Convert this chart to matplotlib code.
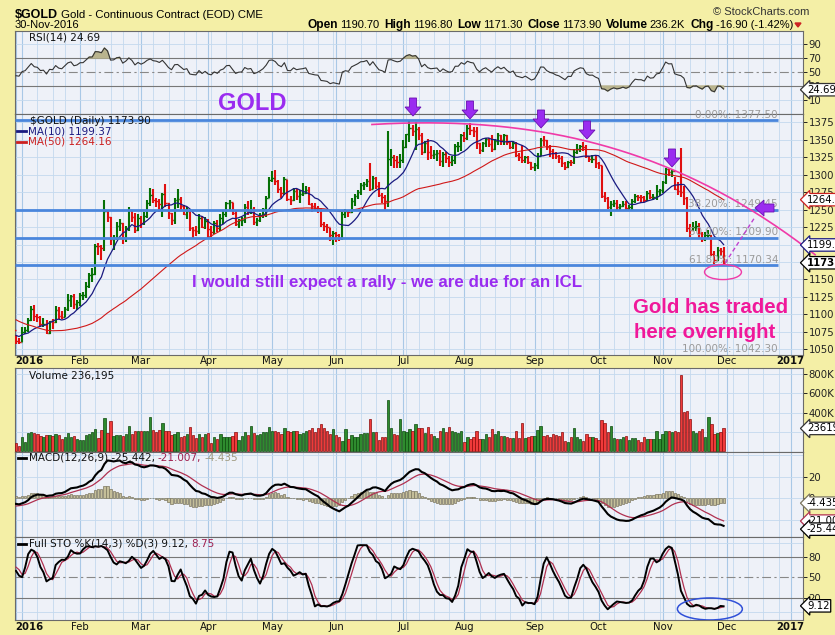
import numpy as np
import pandas as pd
import matplotlib
matplotlib.use("Agg")
import matplotlib.pyplot as plt
from matplotlib.patches import Ellipse, Polygon
from matplotlib.lines import Line2D

W, H = 835, 635

# warm-up history 19-Oct-2015 .. 29-Dec-2015, only used to seed the indicators
warm_close = [1172.4, 1176.6, 1166.2, 1166.6, 1163.0, 1162.8, 1166.0, 1176.1, 1146.3, 1142.4,
              1134.6, 1114.0, 1104.8, 1104.0, 1088.1, 1090.5, 1088.0, 1085.4, 1084.6, 1081.1,
              1084.1, 1069.5, 1068.1, 1077.8, 1076.4, 1069.3, 1073.2, 1071.1, 1056.5, 1064.2,
              1068.8, 1053.3, 1061.8, 1084.1, 1075.0, 1075.8, 1076.2, 1071.4, 1075.6, 1062.2,
              1062.1, 1076.0, 1049.6, 1065.3, 1080.6, 1075.1, 1069.6, 1075.8, 1068.3, 1077.6]
warm_high = [1178, 1181, 1177, 1172, 1170, 1168, 1170, 1180, 1159, 1151,
             1143, 1137, 1118, 1110, 1108, 1095, 1094, 1092, 1089, 1089,
             1090, 1085, 1077, 1081, 1082, 1078, 1078, 1077, 1074, 1066,
             1072, 1070, 1065, 1087, 1085, 1079, 1083, 1080, 1078, 1077,
             1066, 1079, 1073, 1068, 1085, 1081, 1077, 1078, 1077, 1080]
warm_low = [1166, 1168, 1162, 1160, 1159, 1158, 1160, 1156, 1142, 1139,
            1131, 1110, 1103, 1101, 1084, 1083, 1085, 1082, 1080, 1077,
            1075, 1067, 1063, 1067, 1072, 1063, 1068, 1068, 1052, 1053,
            1058, 1050, 1046, 1055, 1071, 1070, 1072, 1068, 1067, 1060,
            1058, 1061, 1046, 1048, 1064, 1072, 1066, 1068, 1067, 1066]

# shown bars 30-Dec-2015 .. 30-Nov-2016
close = [
    1061.8, 1060.2,
    1075.1, 1078.4, 1091.9, 1107.7, 1097.8, 1096.0, 1085.6, 1086.9, 1073.9, 1090.6,
    1089.4, 1106.1, 1098.1, 1096.1, 1107.6, 1121.0, 1125.9, 1114.9, 1118.2,
    1128.0, 1128.5, 1141.1, 1156.8, 1157.3, 1198.0, 1197.3, 1195.2, 1247.8, 1239.4,
    1208.2, 1210.0, 1226.7, 1230.8, 1209.3, 1223.5, 1249.6, 1240.0, 1220.7, 1238.4,
    1231.0, 1241.3, 1259.8, 1270.9, 1264.0, 1262.4, 1257.6, 1272.0, 1259.6, 1244.4,
    1235.0, 1263.2, 1265.0, 1254.7, 1244.0, 1248.2, 1223.7, 1220.8, 1219.6, 1238.3,
    1224.8, 1234.2,
    1222.2, 1218.4, 1230.6, 1224.3, 1237.9, 1243.1, 1258.8, 1260.3, 1245.8, 1229.7,
    1234.6, 1235.5, 1254.2, 1248.6, 1250.9, 1231.8, 1235.7, 1242.3, 1250.6, 1266.0,
    1293.0,
    1295.2, 1290.5, 1279.3, 1274.1, 1294.0, 1265.0, 1263.7, 1277.2, 1269.9, 1272.8,
    1274.4, 1277.9, 1257.6, 1254.8, 1252.0, 1251.0, 1228.8, 1227.0, 1224.5, 1213.8,
    1216.2,
    1213.0, 1210.0, 1243.6, 1248.2, 1246.2, 1262.8, 1269.3, 1275.7, 1285.0, 1286.1,
    1291.1, 1279.1, 1294.8, 1283.0, 1270.8, 1267.8, 1262.3, 1322.4, 1324.7, 1320.6,
    1317.6, 1321.4,
    1339.8, 1357.7, 1366.0, 1362.0, 1365.9, 1356.9, 1332.0, 1345.0, 1332.7, 1328.5,
    1329.9, 1331.6, 1318.8, 1330.0, 1323.4, 1318.3, 1320.3, 1341.0, 1341.3, 1357.2,
    1352.8, 1367.3, 1364.0, 1362.4, 1344.9, 1335.5, 1345.5, 1351.0, 1343.2, 1337.1,
    1348.3, 1356.6, 1350.1, 1356.2, 1346.6, 1340.0, 1345.0, 1328.0, 1324.7, 1321.3,
    1325.5, 1318.6, 1311.4,
    1314.1, 1327.0, 1350.1, 1349.8, 1339.6, 1334.2, 1331.4, 1326.0, 1323.2, 1317.0,
    1310.4, 1318.2, 1318.0, 1332.2, 1337.2, 1341.3, 1340.0, 1326.7, 1322.3, 1322.5,
    1317.1,
    1313.3, 1269.3, 1266.3, 1253.0, 1257.4, 1260.1, 1254.0, 1255.2, 1257.4, 1251.8,
    1254.2, 1262.4, 1269.4, 1267.8, 1267.7, 1263.7, 1273.4, 1267.6, 1268.4, 1276.0,
    1277.4,
    1289.7, 1308.0, 1304.2, 1304.5, 1280.1, 1276.9, 1274.5, 1266.8, 1224.3, 1221.4,
    1225.7, 1226.5, 1216.3, 1207.6, 1213.3, 1214.0, 1187.0, 1178.3, 1191.7, 1190.7,
    1173.9,
]
high = [
    1070.6, 1065.8,
    1082.5, 1081.5, 1095.0, 1111.8, 1113.4, 1100.0, 1097.2, 1094.3, 1092.4, 1091.3,
    1093.0, 1111.6, 1110.8, 1104.9, 1110.5, 1128.6, 1128.4, 1128.6, 1120.0,
    1130.4, 1132.0, 1146.0, 1159.0, 1166.0, 1200.5, 1202.6, 1200.0, 1263.9, 1250.0,
    1239.0, 1214.0, 1232.5, 1237.0, 1231.0, 1227.0, 1253.0, 1248.0, 1245.6, 1244.0,
    1241.0, 1246.0, 1264.0, 1280.5, 1279.0, 1267.0, 1265.0, 1274.0, 1286.0, 1260.0,
    1244.5, 1266.0, 1280.0, 1268.0, 1257.0, 1253.0, 1249.0, 1225.0, 1227.0, 1243.0,
    1241.0, 1240.0,
    1236.0, 1226.0, 1233.0, 1235.0, 1243.0, 1249.0, 1261.0, 1263.5, 1259.0, 1248.0,
    1236.0, 1240.0, 1258.0, 1262.0, 1264.0, 1254.0, 1238.0, 1245.0, 1252.0, 1270.0,
    1297.0,
    1305.0, 1306.0, 1293.0, 1282.0, 1296.0, 1293.0, 1270.0, 1281.0, 1280.0, 1278.0,
    1288.0, 1284.0, 1282.0, 1260.0, 1259.0, 1255.0, 1252.0, 1232.0, 1230.0, 1224.0,
    1220.0,
    1218.0, 1215.0, 1246.0, 1251.0, 1250.0, 1266.0, 1272.0, 1278.0, 1288.0, 1290.0,
    1294.0, 1316.0, 1298.0, 1296.0, 1289.0, 1274.0, 1271.0, 1362.6, 1336.0, 1328.0,
    1326.0, 1330.0,
    1350.0, 1358.0, 1377.5, 1371.0, 1375.0, 1368.0, 1360.0, 1348.0, 1351.0, 1341.0,
    1335.0, 1335.0, 1335.0, 1332.0, 1333.0, 1326.0, 1326.0, 1344.0, 1346.0, 1358.0,
    1361.0, 1370.5, 1374.0, 1368.0, 1368.0, 1345.0, 1347.0, 1353.0, 1352.0, 1356.0,
    1351.0, 1360.0, 1357.0, 1358.0, 1356.0, 1347.0, 1347.0, 1346.0, 1331.0, 1342.0,
    1327.0, 1327.0, 1318.0,
    1317.0, 1331.0, 1352.0, 1355.0, 1350.0, 1343.0, 1336.0, 1333.0, 1328.0, 1326.0,
    1318.0, 1320.0, 1321.0, 1337.0, 1344.0, 1343.0, 1346.0, 1343.0, 1326.0, 1328.0,
    1327.0,
    1318.0, 1313.0, 1275.0, 1268.0, 1262.0, 1264.0, 1263.0, 1258.0, 1262.0, 1262.0,
    1257.0, 1265.0, 1272.0, 1271.0, 1271.0, 1270.0, 1276.0, 1278.0, 1272.0, 1285.0,
    1280.0,
    1291.0, 1310.0, 1308.0, 1306.0, 1296.0, 1290.0, 1338.0, 1284.0, 1268.0, 1230.0,
    1232.0, 1233.0, 1231.0, 1218.0, 1218.0, 1221.0, 1213.0, 1191.0, 1196.0, 1195.0,
    1196.8,
]
low = [
    1058.2, 1057.2,
    1061.0, 1071.3, 1074.3, 1090.0, 1091.3, 1088.9, 1082.0, 1081.3, 1071.5, 1072.0,
    1078.5, 1087.2, 1093.5, 1093.8, 1096.8, 1105.0, 1111.0, 1108.4, 1107.0,
    1111.7, 1120.0, 1123.0, 1138.5, 1146.0, 1157.0, 1185.0, 1178.4, 1191.0, 1232.0,
    1200.0, 1191.5, 1206.6, 1220.0, 1200.5, 1203.0, 1220.0, 1232.0, 1216.6, 1220.0,
    1224.0, 1228.0, 1238.0, 1255.0, 1259.0, 1253.0, 1246.0, 1240.0, 1253.0, 1236.0,
    1227.5, 1230.0, 1252.0, 1249.0, 1242.0, 1236.0, 1220.0, 1208.0, 1212.0, 1215.0,
    1223.0, 1222.0,
    1208.0, 1211.0, 1215.0, 1218.0, 1220.0, 1230.0, 1240.0, 1250.0, 1242.0, 1226.0,
    1224.0, 1227.0, 1231.0, 1242.0, 1243.0, 1228.0, 1227.0, 1232.0, 1238.0, 1240.0,
    1266.0,
    1289.0, 1285.0, 1274.0, 1266.0, 1271.0, 1262.0, 1257.0, 1262.0, 1264.0, 1260.0,
    1269.0, 1272.0, 1256.0, 1247.0, 1250.0, 1245.0, 1225.0, 1220.0, 1217.0, 1205.0,
    1199.0,
    1204.0, 1205.0, 1206.0, 1238.0, 1240.0, 1245.0, 1255.0, 1265.0, 1271.0, 1278.0,
    1282.0, 1276.0, 1280.0, 1280.0, 1268.0, 1260.0, 1250.0, 1254.0, 1313.0, 1310.0,
    1310.0, 1310.0,
    1316.0, 1338.0, 1347.0, 1355.0, 1335.0, 1350.0, 1328.0, 1331.0, 1321.0, 1322.0,
    1322.0, 1320.0, 1313.0, 1311.0, 1316.0, 1311.0, 1312.0, 1315.0, 1332.0, 1334.0,
    1346.0, 1349.0, 1357.0, 1354.0, 1336.0, 1330.0, 1333.0, 1339.0, 1340.0, 1333.0,
    1335.0, 1342.0, 1343.0, 1343.0, 1342.0, 1336.0, 1336.0, 1325.0, 1320.0, 1317.0,
    1316.0, 1315.0, 1306.0,
    1305.0, 1308.0, 1326.0, 1341.0, 1335.0, 1325.0, 1322.0, 1322.0, 1317.0, 1311.0,
    1306.0, 1310.0, 1312.0, 1315.0, 1330.0, 1333.0, 1334.0, 1324.0, 1318.0, 1316.0,
    1310.0,
    1308.0, 1266.0, 1261.0, 1251.0, 1241.0, 1254.0, 1250.0, 1249.0, 1253.0, 1250.0,
    1248.0, 1250.0, 1260.0, 1262.0, 1260.0, 1261.0, 1262.0, 1265.0, 1264.0, 1264.0,
    1270.0,
    1273.0, 1287.0, 1298.0, 1296.0, 1278.0, 1271.0, 1268.0, 1257.0, 1218.0, 1211.0,
    1220.0, 1220.0, 1210.0, 1204.0, 1205.0, 1209.0, 1183.0, 1172.0, 1177.0, 1184.0,
    1171.3,
]
# volume in thousands
volume = [
    83, 55, 145, 100, 186, 196, 186, 179, 158, 151, 168, 168, 162, 175, 168, 124, 151, 186, 151, 158,
    131, 117, 117, 168, 179, 203, 227, 141, 220, 341, 186, 313, 158, 168, 168, 158, 179, 262, 179, 210,
    206, 213, 206, 210, 351, 220, 203, 220, 289, 213, 210, 168, 179, 196, 151, 162, 179, 248, 168, 141,
    179, 145, 179, 193, 83, 145, 131, 179, 145, 145, 145, 158, 203, 117, 158, 203, 168, 262, 193, 168,
    179, 203, 203, 248, 213, 210, 203, 179, 237, 210, 203, 213, 213, 179, 193, 210, 220, 237, 203, 237,
    282, 237, 213, 179, 227, 168, 145, 110, 227, 124, 168, 145, 145, 179, 193, 186, 331, 203, 196, 117,
    145, 145, 530, 237, 179, 168, 331, 213, 203, 227, 213, 279, 237, 244, 186, 248, 179, 158, 134, 210,
    237, 203, 248, 210, 203, 186, 210, 100, 151, 127, 145, 210, 124, 124, 179, 145, 227, 179, 210, 158,
    158, 145, 134, 134, 210, 134, 296, 134, 151, 158, 158, 220, 262, 158, 168, 151, 179, 168, 158, 203,
    110, 100, 145, 244, 145, 124, 107, 179, 145, 145, 134, 117, 324, 289, 203, 262, 134, 124, 124, 145,
    158, 117, 134, 134, 117, 100, 145, 124, 124, 124, 213, 124, 179, 213, 213, 203, 213, 203, 788, 409,
    416, 331, 213, 193, 213, 230, 151, 351, 279, 179, 193, 203, 236.195,
]

# last values as printed in the chart's legends
rsi_last = 24.69
ma10_last, ma50_last = 1199.37, 1264.16
macd_last, signal_last, hist_last = -25.442, -21.007, -4.435
stok_last, stod_last = 9.12, 8.75

holidays = ["2015-11-26", "2015-12-25", "2016-01-01", "2016-01-18", "2016-02-15", "2016-03-25",
            "2016-05-30", "2016-07-04", "2016-09-05", "2016-11-24", "2016-12-26", "2017-01-02",
            "2017-01-16"]

fib_levels = [("0.00%: 1377.50", 1377.5), ("38.20%: 1249.45", 1249.45), ("50.00%: 1209.90", 1209.9),
              ("61.80%: 1170.34", 1170.34), ("100.00%: 1042.30", 1042.3)]

# ---------------------------------------------------------------- indicators
n_warm = len(warm_close)
c_all = pd.Series(warm_close + close, dtype=float)
h_all = pd.Series(warm_high + high, dtype=float)
l_all = pd.Series(warm_low + low, dtype=float)

ma10 = c_all.rolling(10).mean().values[n_warm:]
ma50 = c_all.rolling(50, min_periods=40).mean().values[n_warm:]

d = c_all.diff()
up = d.clip(lower=0).ewm(alpha=1 / 14, adjust=False).mean()
dn = (-d).clip(lower=0).ewm(alpha=1 / 14, adjust=False).mean()
rsi = (100 - 100 / (1 + up / dn)).values[n_warm:]

ema12 = c_all.ewm(span=12, adjust=False).mean()
ema26 = c_all.ewm(span=26, adjust=False).mean()
macd_s = ema12 - ema26
sig_s = macd_s.ewm(span=9, adjust=False).mean()
macd = macd_s.values[n_warm:]
sig = sig_s.values[n_warm:]
hist = macd - sig

ll = l_all.rolling(14).min()
hh = h_all.rolling(14).max()
fast_k = 100 * (c_all - ll) / (hh - ll)
sto_k_s = fast_k.rolling(3).mean()
sto_k = sto_k_s.values[n_warm:]
sto_d = sto_k_s.rolling(3).mean().values[n_warm:]

n = len(close)
x = np.arange(n)
c = np.array(close)
prev = np.array([warm_close[-1]] + close[:-1])
is_up = c >= prev

days = pd.bdate_range("2015-10-19", "2017-02-15")
days = days[~days.isin(pd.to_datetime(holidays))]
days = days[n_warm:]          # index 0 == 30-Dec-2015

# ---------------------------------------------------------------- layout
YEL = "#f4efa6"
BG = "#eef1f8"
GRID = "#c3d9ee"
GRID_M = "#a9c8e6"
GREEN = "#067006"
RED = "#e01010"
FONT = "DejaVu Sans"
HFONT = "Liberation Sans"
L, R = 15, 803
PX = 3.05
X0 = 16
XMIN = (L - X0) / PX
XMAX = (R - X0) / PX

fig = plt.figure(figsize=(W / 100, H / 100), dpi=100, facecolor=YEL)
renderer = fig.canvas.get_renderer()


def fx(px):
    return px / W


def fy(py):
    return 1 - py / H


def ptext(px, py, s, **kw):
    kw.setdefault("va", "center")
    kw.setdefault("family", FONT)
    return fig.text(fx(px), fy(py), s, **kw)


def text_w(t):
    return t.get_window_extent(renderer).width


week_x, month_x, month_lab = [], [], []
prev_day = None
for i, dd in enumerate(days):
    if i > XMAX:
        break
    if prev_day is not None and dd.weekday() < prev_day.weekday():
        week_x.append(i)
    if prev_day is None or dd.month != prev_day.month:
        if dd.month == 1:
            month_lab.append((i, str(dd.year), "bold"))
        else:
            month_lab.append((i, dd.strftime("%b"), "normal"))
        month_x.append(i)
    prev_day = dd


def panel(top, bottom, ylim, yticks, hgrid):
    ax = fig.add_axes([fx(L), fy(bottom), fx(R - L), (bottom - top) / H])
    ax.set_facecolor(BG)
    ax.set_xlim(XMIN, XMAX)
    ax.set_ylim(*ylim)
    ax.set_xticks([])
    ax.yaxis.tick_right()
    ax.set_yticks(yticks)
    ax.tick_params(axis="y", direction="out", length=3, width=0.7, pad=1,
                   labelsize=7.3, colors="#222", labelfontfamily=FONT)
    for s in ax.spines.values():
        s.set_color("#6a6a6a")
        s.set_linewidth(0.8)
    for v in week_x:
        ax.axvline(v, color=GRID, lw=0.6, zorder=0)
    for v in month_x:
        ax.axvline(v, color=GRID_M, lw=0.8, zorder=0)
    for v in hgrid:
        ax.axhline(v, color=GRID, lw=0.6, zorder=0)
    return ax


def tag(ax, val, txt, ec, bold=False, color="black", z=10):
    ax.text(1.0 + 4 / (R - L), val, txt, transform=ax.get_yaxis_transform(), ha="left",
            va="center", fontsize=7.3, family=FONT, color=color,
            fontweight="bold" if bold else "normal", clip_on=False, zorder=z,
            bbox=dict(boxstyle="larrow,pad=0.12", fc="white", ec=ec, lw=0.9))


# ---------------------------------------------------------------- header
ptext(15, 15, "$GOLD", fontsize=9.0, fontweight="bold", family=HFONT)
ptext(61, 15, "Gold - Continuous Contract (EOD) CME", fontsize=8.2, family=HFONT)
ptext(15, 25, "30-Nov-2016", fontsize=8, family=HFONT)
ptext(713, 12, "\u00a9 StockCharts.com", fontsize=8, family=HFONT, color="#333")
info = [("Open", True), ("1190.70", False), ("High", True), ("1196.80", False),
        ("Low", True), ("1171.30", False), ("Close", True), ("1173.90", False),
        ("Volume", True), ("236.2K", False), ("Chg", True), ("-16.90 (-1.42%)", False)]
pieces = []
for s, b in info:
    t = ptext(0, 25, s, fontsize=8.6 if b else 8, fontweight="bold" if b else "normal",
              family=HFONT)
    pieces.append(t)
widths = [text_w(t) for t in pieces]
gaps = [2 if info[k][1] else 5 for k in range(len(info))]
total = sum(widths) + sum(gaps[:-1])
cur = 793 - total
for t, w_, g in zip(pieces, widths, gaps):
    t.set_x(fx(cur))
    cur += w_ + g
fig.add_artist(Polygon([[fx(795), fy(23)], [fx(801), fy(23)], [fx(798), fy(27)]],
                       closed=True, transform=fig.transFigure, color="#cc2222"))

# ---------------------------------------------------------------- RSI
ax_rsi = panel(31, 114, (-10, 108.6), [10, 30, 50, 70, 90], [10, 90])
ax_rsi.axhline(70, color="#777", lw=0.8)
ax_rsi.axhline(30, color="#777", lw=0.8)
ax_rsi.axhline(50, color="#888", lw=0.8, ls=(0, (8, 3, 2, 3)))
ax_rsi.fill_between(x, rsi, 70, where=rsi >= 70, interpolate=True, color="#b9b48e", zorder=2)
ax_rsi.fill_between(x, rsi, 30, where=rsi <= 30, interpolate=True, color="#b9b48e", zorder=2)
ax_rsi.plot(x, rsi, color="#333", lw=0.8, zorder=3)
tag(ax_rsi, rsi_last, "%.2f" % rsi_last, "#333")
ptext(29, 37, "RSI(14) %.2f" % rsi_last, fontsize=7.5, color="#111")

# ---------------------------------------------------------------- price
ax_p = panel(114, 355, (1041.96, 1386.7), np.arange(1050, 1376, 25), np.arange(1050, 1376, 25))
bar_col = np.where(is_up, GREEN, RED)
ax_p.vlines(x, low, high, colors=bar_col, lw=1.5, zorder=4)
ax_p.hlines(prev, x - 0.5, x, colors=bar_col, lw=1.0, zorder=4)
ax_p.hlines(c, x, x + 0.5, colors=bar_col, lw=1.0, zorder=4)
ax_p.plot(x, ma10, color="#1a1a80", lw=0.9, zorder=5)
ax_p.plot(x, ma50, color="#d01818", lw=0.8, zorder=5)

for lab, lv in fib_levels:
    ax_p.text((778 - X0) / PX, lv + 8, lab, ha="right", va="center", fontsize=7.5, family=FONT,
              color="#9a9a9a", zorder=6)
for lab, lv in fib_levels[:4]:
    ax_p.plot([XMIN, (778 - X0) / PX], [lv, lv], color="#4a86dc", lw=2.0, zorder=6,
              solid_capstyle="butt")

tag(ax_p, ma50_last, "%.2f" % ma50_last, "#cc2020")
tag(ax_p, ma10_last, "%.2f" % ma10_last, "#1a1a80")
tag(ax_p, c[-1], "%.2f" % c[-1], "black", bold=True)

ptext(30, 121, "$GOLD (Daily) %.2f" % c[-1], fontsize=7.5, color="#111", zorder=1)
fig.add_artist(Line2D([fx(17), fx(26)], [fy(131), fy(131)], color="#1a1a80", lw=2))
ptext(28, 131, "MA(10) %.2f" % ma10_last, fontsize=7.5, color="#1a1a80")
fig.add_artist(Line2D([fx(17), fx(26)], [fy(142), fy(142)], color="#cc2020", lw=2))
ptext(28, 142, "MA(50) %.2f" % ma50_last, fontsize=7.5, color="#cc2020")

# annotations
PURPLE = "#9a2cf0"
PINK = "#f03aa8"
ptext(218, 103, "GOLD", fontsize=17, fontweight="bold", family=HFONT, color=PURPLE)
ptext(192, 283, "I would still expect a rally - we are due for an ICL", fontsize=12.2,
      fontweight="bold", family=HFONT, color=PURPLE)
ptext(633, 308, "Gold has traded", fontsize=14.7, fontweight="bold", family=HFONT,
      color="#f0189a")
ptext(634, 333, "here overnight", fontsize=14.7, fontweight="bold", family=HFONT,
      color="#f0189a")


def down_arrow(cx, top):
    pts = [(cx - 3.5, top), (cx + 3.5, top), (cx + 3.5, top + 9), (cx + 8, top + 9),
           (cx, top + 18), (cx - 8, top + 9), (cx - 3.5, top + 9)]
    fig.add_artist(Polygon([[fx(a), fy(b)] for a, b in pts], closed=True,
                           transform=fig.transFigure, fc=PURPLE, ec="#6a10b0", lw=0.6, zorder=20))


for cx, top in [(413, 98), (470, 101), (541, 110), (587, 121), (672, 149)]:
    down_arrow(cx, top)
lx, ly = 755, 208
pts = [(lx, ly), (lx + 9, ly - 8), (lx + 9, ly - 4), (lx + 19, ly - 4), (lx + 19, ly + 4),
       (lx + 9, ly + 4), (lx + 9, ly + 8)]
fig.add_artist(Polygon([[fx(a), fy(b)] for a, b in pts], closed=True,
                       transform=fig.transFigure, fc=PURPLE, ec="#6a10b0", lw=0.6, zorder=20))

arc_x = np.array([116.7, 148.9, 171.8, 193.8, 215.4, 237.4, 248.2, 262.0])
arc_y = np.array([1372.4, 1371.0, 1359.5, 1342.4, 1310.9, 1256.5, 1223.6, 1189.3])
coef = np.polyfit(arc_x, arc_y, 3)
xx = np.linspace(arc_x[0], arc_x[-1], 200)
ax_p.plot(xx, np.polyval(coef, xx), color=PINK, lw=1.2, zorder=7, clip_on=False)
ax_p.add_patch(Ellipse((231.8, 1160.6), 12.1, 21.5, fill=False, ec=PINK, lw=1.0, zorder=7))
ax_p.plot([232.5, 242.3], [1173.5, 1239.3], color="#c040d0", lw=1.0, ls=(0, (3, 2)), zorder=7)

# ---------------------------------------------------------------- date rows
for i, lab, wt in month_lab:
    if i == 0:
        continue
    for yy in (361, 627):
        if lab == "2016":
            ptext(15, yy, lab, fontsize=7.3, fontweight=wt, color="#111")
        else:
            ptext(X0 + PX * i, yy, lab, fontsize=7.3, ha="center", fontweight=wt, color="#111")

# ---------------------------------------------------------------- volume
ax_v = panel(368, 452, (-7, 860), [400, 600, 800], [200, 400, 600, 800])
ax_v.set_yticklabels(["400K", "600K", "800K"])
ax_v.bar(x, volume, width=0.78, color=np.where(is_up, "#2e8b2e", "#f03a3a"),
         edgecolor=np.where(is_up, "#0c4a0c", "#8a0a0a"), lw=0.5, zorder=3)
tag(ax_v, volume[-1], "%d" % round(volume[-1] * 1000), "#333")
ptext(29, 376, "Volume {:,}".format(int(round(volume[-1] * 1000))), fontsize=7.5, color="#111")

# ---------------------------------------------------------------- MACD
ax_m = panel(452, 537, (-35.7, 42.8), [0, 20], [-20, 0, 20, 40])
ax_m.bar(x, hist, width=0.7, color="#c4be99", edgecolor="#7c7660", lw=0.5, zorder=2)
ax_m.plot(x, sig, color="#b03050", lw=0.9, zorder=3)
ax_m.plot(x, macd, color="black", lw=1.5, zorder=4)
tag(ax_m, hist_last, "%.3f" % hist_last, "#7c7660")
tag(ax_m, signal_last, "%.3f" % signal_last, "#b03050")
tag(ax_m, macd_last - 3, "%.3f" % macd_last, "black", z=11)
fig.add_artist(Line2D([fx(18), fx(26)], [fy(458), fy(458)], color="black", lw=2))
t1 = ptext(29, 458, "MACD(12,26,9) %.3f," % macd_last, fontsize=7.5, color="#111")
t2 = ptext(29 + text_w(t1) + 3, 458, "%.3f," % signal_last, fontsize=7.5, color="#a02050")
ptext(29 + text_w(t1) + text_w(t2) + 6, 458, "%.3f" % hist_last, fontsize=7.5, color="#a09a80")

# ---------------------------------------------------------------- STO
ax_s = panel(537, 620, (-11.3, 108.4), [20, 50, 80], [0, 100])
ax_s.axhline(80, color="#777", lw=0.8)
ax_s.axhline(20, color="#777", lw=0.8)
ax_s.axhline(50, color="#888", lw=0.8, ls=(0, (8, 3, 2, 3)))
ax_s.plot(x, sto_d, color="#b03050", lw=0.9, zorder=3)
ax_s.plot(x, sto_k, color="black", lw=1.4, zorder=4)
ax_s.add_patch(Ellipse((227.5, 4.6), 21.3, 31.7, fill=False, ec="#3050d8", lw=1.1, zorder=6))
tag(ax_s, stok_last, "%.2f" % stok_last, "black")
fig.add_artist(Line2D([fx(18), fx(26)], [fy(544), fy(544)], color="black", lw=2))
t3 = ptext(29, 544, "Full STO %%K(14,3) %%D(3) %.2f," % stok_last, fontsize=7.5, color="#111")
ptext(29 + text_w(t3) + 3, 544, "%.2f" % stod_last, fontsize=7.5, color="#a02050")

fig.savefig("out.png", dpi=100, facecolor=YEL)
